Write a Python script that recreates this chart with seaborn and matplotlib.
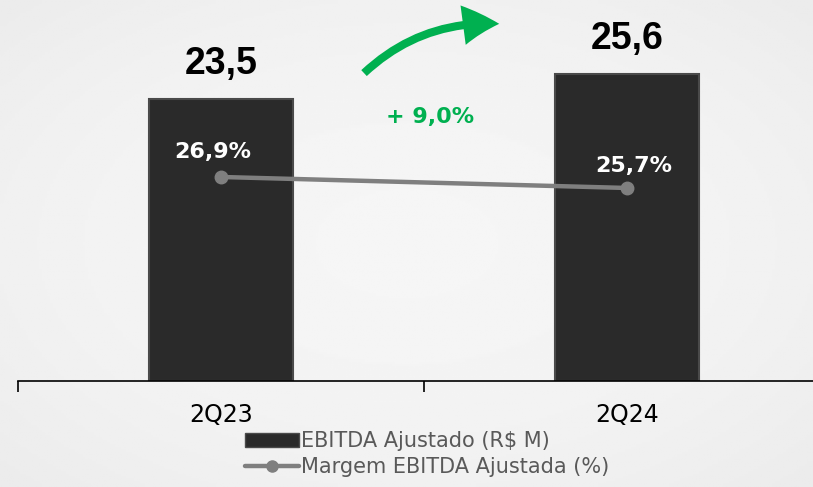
import numpy as np
import pandas as pd
import seaborn as sns
import matplotlib.pyplot as plt
from matplotlib.lines import Line2D
from matplotlib.patches import Patch, FancyArrowPatch

# data
quarters = ['2Q23', '2Q24']
ebitda = [23.5, 25.6]          # EBITDA Ajustado (R$ M)
margem = [26.9, 25.7]          # Margem EBITDA Ajustada (%)
growth_label = '+ 9,0%'

def br(v, suffix=''):
    return f"{v:.1f}".replace('.', ',') + suffix

df = pd.DataFrame({'Trimestre': quarters, 'EBITDA': ebitda, 'Margem': margem})

sns.set_theme(style='white')
plt.rcParams['font.family'] = ['DejaVu Sans']

fig = plt.figure(figsize=(8.13, 4.87), dpi=100)

# soft background
bg = fig.add_axes([0, 0, 1, 1], zorder=-10)
yy, xx = np.mgrid[-1:1:200j, -1:1:300j]
r = np.sqrt(xx**2 + yy**2)
bg.imshow(0.962 - 0.02 * r**2, cmap='gray', vmin=0, vmax=1, aspect='auto',
          extent=[0, 1, 0, 1])
bg.axis('off')

ax = fig.add_axes([18 / 813, 106 / 487, 812 / 813, 381 / 487])
ax.patch.set_alpha(0)
sns.barplot(data=df, x='Trimestre', y='EBITDA', ax=ax, color='#2a2a2a',
            width=0.357, saturation=1, edgecolor='#4a4a4a', linewidth=1.5)
ax.set_xlim(-0.5, 1.5)
ax.set_ylim(0, 31.75)
ax.bar_label(ax.containers[0], labels=[br(v) for v in ebitda], padding=12,
             fontsize=27, fontweight='bold', color='black', family='Liberation Sans')

for s in ['top', 'right', 'left']:
    ax.spines[s].set_visible(False)
ax.spines['bottom'].set_color('black')
ax.spines['bottom'].set_linewidth(1.2)
ax.set_yticks([])
ax.set_xlabel('')
ax.set_ylabel('')
ax.tick_params(axis='x', which='major', length=0, labelsize=17, pad=16, colors='black')
ax.set_xticks([-0.5, 0.5, 1.5], minor=True)
ax.tick_params(axis='x', which='minor', bottom=True, length=8, width=1.2,
               color='black', direction='out')

# margin line on twin axis
ax2 = ax.twinx()
ax2.plot(range(len(quarters)), margem, color='#7f7f7f', lw=3.2,
         marker='o', markersize=9, solid_capstyle='round')
ax2.set_ylim(4.65, 46.2)
ax2.set_yticks([])
for s in ax2.spines.values():
    s.set_visible(False)
ax2.annotate(br(margem[0], '%'), (0, margem[0]), xytext=(-6, 18), textcoords='offset points',
             ha='center', va='center', color='white', fontsize=16, fontweight='bold')
ax2.annotate(br(margem[1], '%'), (1, margem[1]), xytext=(5, 16), textcoords='offset points',
             ha='center', va='center', color='white', fontsize=16, fontweight='bold')

# growth arrow
arrow = FancyArrowPatch((362 / 813, 1 - 75 / 487), (502 / 813, 1 - 24 / 487),
                        transform=fig.transFigure, connectionstyle='arc3,rad=-0.22',
                        arrowstyle='simple,head_width=2.2,head_length=2.0,tail_width=0.45',
                        mutation_scale=13, color='#00b050', lw=0)
fig.patches.append(arrow)
fig.text(430 / 813, 1 - 117 / 487, growth_label, ha='center', va='center',
         color='#00b050', fontsize=16, fontweight='bold')

handles = [Patch(facecolor='#2a2a2a', edgecolor='#4a4a4a'),
           Line2D([], [], color='#7f7f7f', lw=3.2, marker='o', markersize=8)]
leg = fig.legend(handles, ['EBITDA Ajustado (R$ M)', 'Margem EBITDA Ajustada (%)'],
                 loc='center', bbox_to_anchor=(427 / 813, 1 - 454 / 487), frameon=False,
                 fontsize=15, handlelength=2.6, handleheight=0.6, handletextpad=0.1,
                 labelspacing=0.25, borderpad=0)
for t in leg.get_texts():
    t.set_color('#595959')

fig.savefig('out.png', dpi=100)
